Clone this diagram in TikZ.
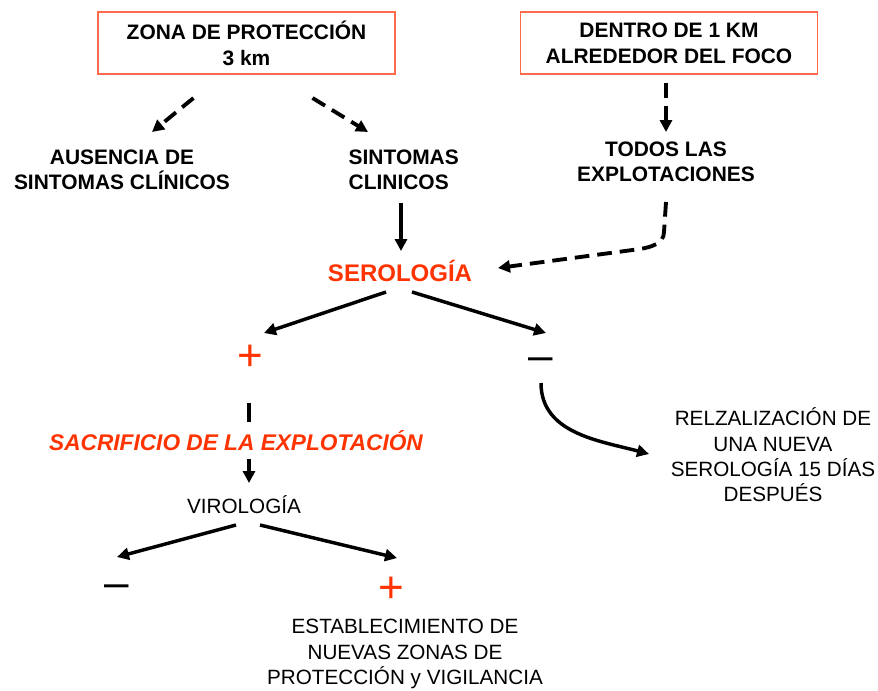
\documentclass[tikz,border=0pt]{standalone}
\usepackage{fontspec}
\setmainfont{Liberation Sans}
\usetikzlibrary{arrows.meta}
\definecolor{rahmenrot}{RGB}{255,106,77}
\definecolor{textrot}{RGB}{255,51,0}

\tikzset{
	kasten/.style={draw=rahmenrot, line width=0.8pt, minimum width=222.75pt, minimum height=46.5pt, align=center, font=\fontsize{15.7}{19.5}\selectfont\bfseries},
	fett/.style={align=center, font=\fontsize{15.7}{19}\selectfont\bfseries},
	normal/.style={align=center, font=\fontsize{15.5}{19}\selectfont},
	zeichen/.style={font=\fontsize{33}{33}\selectfont, inner sep=0pt, text height=23.4pt, text depth=0pt},
	pfeil/.style={line width=2.6pt, -{Triangle[length=9pt,width=9pt]}},
	strichpfeil/.style={pfeil, line width=2.9pt, dash pattern=on 11pt off 6pt},
}

\begin{document}
\begin{tikzpicture}[x=0.75pt, y=-0.75pt]
	\useasboundingbox (0, 0) rectangle (878, 690);
	% Kaesten oben
	\node [kasten] (zona) at (246.5, 43) {ZONA DE PROTECCIÓN\\3 km};
	\node [kasten] (dentro) at (669, 43) {DENTRO DE 1 KM\\ALREDEDOR DEL FOCO};
	% Zweite Reihe
	\node [fett] (ausencia) at (122, 170) {AUSENCIA DE\\SINTOMAS CLÍNICOS};
	\node [fett, align=left, anchor=west] (sintomas) at (344, 170) {SINTOMAS\\CLINICOS};
	\node [fett] (todos) at (666, 162) {TODOS LAS\\EXPLOTACIONES};
	\node [font=\fontsize{18}{20}\selectfont\bfseries, text=textrot] (serologia) at (400, 271) {SEROLOGÍA};
	% Ergebnisse
	\node [zeichen, text=textrot] (plusA) at (250, 355) {+};
	\node [zeichen, text height=18.2pt] (minusA) at (541, 358) {–};
	\node [font=\fontsize{17}{20}\selectfont\bfseries\itshape, text=textrot] (sacrificio) at (236, 441) {SACRIFICIO DE LA EXPLOTACIÓN};
	\node [normal] (virologia) at (244, 505) {VIROLOGÍA};
	\node [zeichen, text height=18.2pt] (minusB) at (117, 585) {–};
	\node [zeichen, text=textrot] (plusB) at (391, 587) {+};
	\node [normal] (nuevas) at (405, 654) {ESTABLECIMIENTO DE\\NUEVAS ZONAS DE\\PROTECCIÓN y VIGILANCIA};
	\node [normal] (repetir) at (773, 455) {RELZALIZACIÓN DE\\UNA NUEVA\\SEROLOGÍA 15 DÍAS\\DESPUÉS};
	% Pfeile
	\draw [strichpfeil] ([shift={(-53,55)}]zona.center) -- ([shift={(30,-38)}]ausencia.center);
	\draw [strichpfeil] ([shift={(66,55)}]zona.center) -- ([shift={(24,-38)}]sintomas.west);
	\draw [strichpfeil] ([shift={(-3,40)}]dentro.center) -- ([shift={(0,-30)}]todos.center);
	\draw [pfeil] ([shift={(57,33)}]sintomas.west) -- ([shift={(1,-20)}]serologia.center);
	\draw [strichpfeil] ([shift={(0,40)}]todos.center) -- ++(-2, 30) to [out=-90, in=10] ++(-24, 17) -- ([shift={(98,-3)}]serologia.center);
	\draw [pfeil] ([shift={(-14,21)}]serologia.center) -- ([shift={(14,-22)}]plusA.center);
	\draw [pfeil] ([shift={(12,21)}]serologia.center) -- ([shift={(5,-25)}]minusA.center);
	\draw [line width=2.9pt] ([shift={(-1,48)}]plusA.center) -- ([shift={(13,-19)}]sacrificio.center);
	\draw [pfeil] ([shift={(13,18)}]sacrificio.center) -- ([shift={(5,-22)}]virologia.center);
	\draw [pfeil] ([shift={(0,25)}]minusA.center) to [out=-90, in=165] ([shift={(-124,-1)}]repetir.center);
	\draw [pfeil] ([shift={(-8,20)}]virologia.center) -- ([shift={(0,-28)}]minusB.center);
	\draw [pfeil] ([shift={(16,20)}]virologia.center) -- ([shift={(6,-29)}]plusB.center);
\end{tikzpicture}
\end{document}
